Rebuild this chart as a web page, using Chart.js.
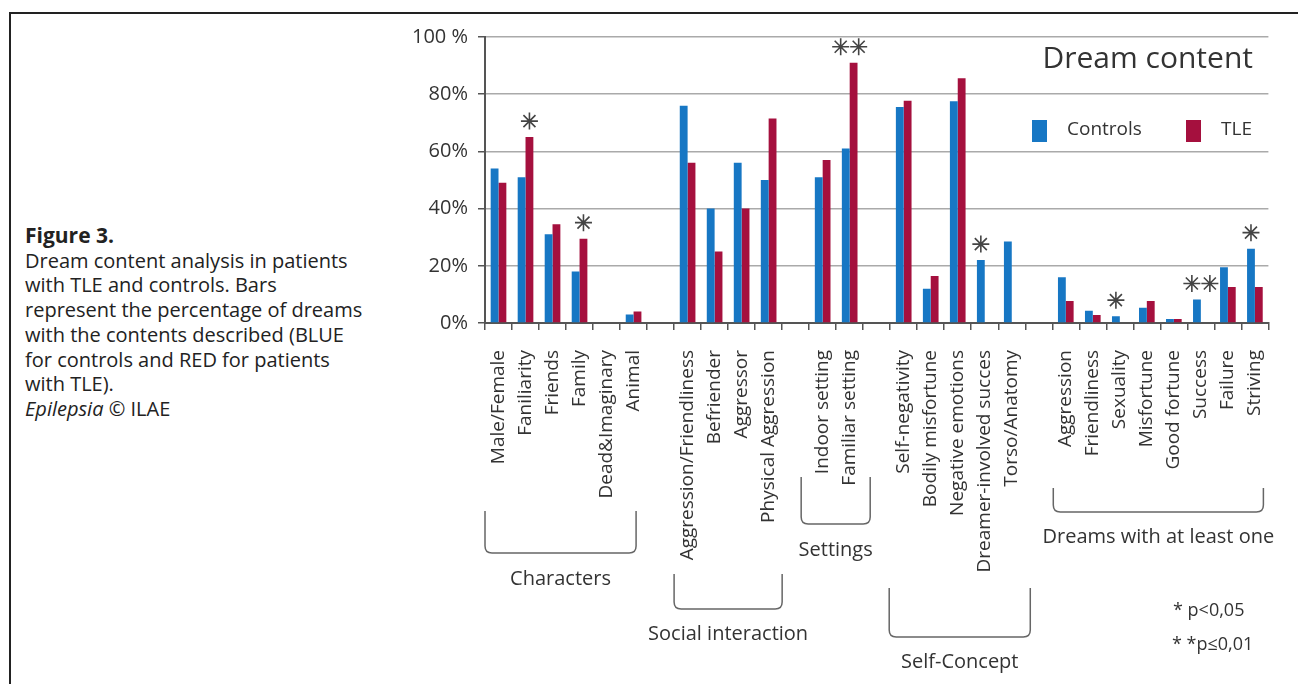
<!DOCTYPE html>
<html>
<head>
<meta charset="utf-8">
<script src="https://cdn.jsdelivr.net/npm/chart.js@4.4.1/dist/chart.umd.min.js"></script>
<style>
  body { margin: 0; width: 1298px; height: 684px; background: #fff; overflow: hidden; position: relative; font-family: "Open Sans", sans-serif; }
  #frame { position: absolute; left: 9px; top: 12px; width: 1289px; height: 672px; border-left: 2px solid #222; border-top: 2px solid #222; }
  #caption { position: absolute; left: 25px; top: 223px; font-size: 20px; line-height: 24.7px; color: #222; white-space: nowrap; }
  #caption b { font-size: 21px; }
  #wrap { position: absolute; left: 400px; top: 15px; }
</style>
</head>
<body>
<div id="frame"></div>
<div id="caption">
  <b>Figure 3.</b><br>
  Dream content analysis in patients<br>
  with TLE and controls. Bars<br>
  represent the percentage of dreams<br>
  with the contents described (BLUE<br>
  for controls and RED for patients<br>
  with TLE).<br>
  <i>Epilepsia</i> &copy; ILAE
</div>
<div id="wrap"><canvas id="grafico" width="898" height="669"></canvas></div>
<script>
// categories (empty strings are the gaps between groups)
const categories = [
  'Male/Female', 'Faniliarity', 'Friends', 'Family', 'Dead&Imaginary', 'Animal', '',
  'Aggression/Friendliness', 'Befriender', 'Aggressor', 'Physical Aggression', '',
  'Indoor setting', 'Familiar setting', '',
  'Self-negativity', 'Bodily misfortune', 'Negative emotions', 'Dreamer-involved succes', 'Torso/Anatomy', '',
  'Aggression', 'Friendliness', 'Sexuality', 'Misfortune', 'Good fortune', 'Success', 'Failure', 'Striving'
];
const controls = [54, 51, 31, 18, 0, 3, null, 76, 40, 56, 50, null, 51, 61, null, 75.5, 12, 77.5, 22, 28.5, null, 16, 4.3, 2.4, 5.3, 1.4, 8.2, 19.5, 26];
const tle = [49, 65, 34.5, 29.5, 0, 4, null, 56, 25, 40, 71.5, null, 57, 91, null, 77.7, 16.4, 85.6, 0, 0, null, 7.7, 2.8, 0, 7.7, 1.4, 0, 12.6, 12.6];
const significance = ['', '*', '', '*', '', '', '', '', '', '', '', '', '', '**', '', '', '', '', '*', '', '', '', '', '*', '', '', '**', '', '*'];

const groupNames = ['Characters', 'Social interaction', 'Settings', 'Self-Concept', 'Dreams with at least one'];
const groupFirst = [0, 7, 12, 15, 21];
const groupLast = [5, 10, 13, 19, 28];

const yTicks = [0, 20, 40, 60, 80, 100];
const chartTitle = 'Dream content';
const footnotes = ['* p<0,05', '* *p\u22640,01'];

const FONT = '"Open Sans", sans-serif';
const BLUE = '#1777c4';
const RED = '#a5103e';

// bracket placement (canvas pixels), one per group
const bracketLayout = [
  { top: 496, bottom: 538, label: 564, padL: 0, padR: -11 },
  { top: 559, bottom: 594, label: 619, padL: 0, padR: 0 },
  { top: 462, bottom: 509, label: 535, padL: 8, padR: 7 },
  { top: 573, bottom: 622, label: 647, padL: 1, padR: 5 },
  { top: 473, bottom: 497, label: 522, padL: -1, padR: -5 }
];

const drawStar = (ctx, cx, cy, r) => {
  ctx.beginPath();
  for (let k = 0; k < 4; k++) {
    const a = k * Math.PI / 4;
    ctx.moveTo(cx - r * Math.cos(a), cy - r * Math.sin(a));
    ctx.lineTo(cx + r * Math.cos(a), cy + r * Math.sin(a));
  }
  ctx.stroke();
};

const extras = {
  id: 'extras',
  afterDraw(chart) {
    const ctx = chart.ctx;
    const xs = chart.scales.x;
    const step = xs.getPixelForValue(1) - xs.getPixelForValue(0);
    const metaC = chart.getDatasetMeta(0);
    const metaT = chart.getDatasetMeta(1);
    ctx.save();

    // asterisks above the taller bar
    ctx.strokeStyle = '#444';
    ctx.lineWidth = 1.6;
    significance.forEach((s, i) => {
      if (!s) return;
      const useC = (controls[i] || 0) >= (tle[i] || 0);
      const bar = useC ? metaC.data[i] : metaT.data[i];
      const cx = s.length === 2 ? xs.getPixelForValue(i) : bar.x;
      const cy = bar.y - 16;
      if (s.length === 1) {
        drawStar(ctx, cx, cy, 8.5);
      } else {
        drawStar(ctx, cx - 9, cy, 8.5);
        drawStar(ctx, cx + 9, cy, 8.5);
      }
    });

    // title
    ctx.fillStyle = '#333';
    ctx.font = `30px ${FONT}`;
    ctx.textAlign = 'right';
    ctx.textBaseline = 'middle';
    ctx.fillText(chartTitle, 853, 44);

    // legend
    ctx.font = `19px ${FONT}`;
    ctx.textAlign = 'left';
    const legendX = [632, 786];
    chart.data.datasets.forEach((ds, d) => {
      ctx.fillStyle = ds.backgroundColor;
      ctx.fillRect(legendX[d], 105, 15, 22);
      ctx.fillStyle = '#333';
      ctx.fillText(ds.label, legendX[d] + 35, 115);
    });

    // group brackets
    ctx.strokeStyle = '#666';
    ctx.lineWidth = 1.5;
    ctx.font = `20px ${FONT}`;
    ctx.textAlign = 'center';
    groupNames.forEach((name, g) => {
      const b = bracketLayout[g];
      const left = xs.getPixelForValue(groupFirst[g]) - step / 2 - b.padL;
      const right = xs.getPixelForValue(groupLast[g]) + step / 2 + b.padR;
      const r = 7;
      ctx.beginPath();
      ctx.moveTo(left, b.top);
      ctx.lineTo(left, b.bottom - r);
      ctx.quadraticCurveTo(left, b.bottom, left + r, b.bottom);
      ctx.lineTo(right - r, b.bottom);
      ctx.quadraticCurveTo(right, b.bottom, right, b.bottom - r);
      ctx.lineTo(right, b.top);
      ctx.stroke();
      ctx.fillStyle = '#333';
      ctx.fillText(name, (left + right) / 2, b.label);
    });

    // footnotes
    ctx.font = `18px ${FONT}`;
    ctx.textAlign = 'left';
    ctx.fillText(footnotes[0], 773, 596);
    ctx.fillText(footnotes[1], 772, 630);
    ctx.restore();
  }
};

const ctx = document.getElementById('grafico').getContext('2d');
new Chart(ctx, {
  type: 'bar',
  data: {
    labels: categories,
    datasets: [
      { label: 'Controls', data: controls, backgroundColor: BLUE },
      { label: 'TLE', data: tle, backgroundColor: RED }
    ]
  },
  options: {
    responsive: false,
    animation: false,
    categoryPercentage: 0.58,
    barPercentage: 1,
    layout: { padding: { top: 19, right: 18, left: 0, bottom: 0 } },
    plugins: { legend: { display: false }, tooltip: { enabled: false } },
    scales: {
      x: {
        grid: { display: true, drawOnChartArea: false, drawTicks: true, tickLength: 7, offset: true, color: '#555', lineWidth: 1.5 },
        border: { color: '#555', width: 2 },
        ticks: { autoSkip: false, minRotation: 90, maxRotation: 90, padding: 20, color: '#333', font: { family: FONT, size: 19 } },
        afterFit: (scale) => { scale.height = 361; }
      },
      y: {
        min: 0,
        max: 100,
        afterBuildTicks: (scale) => { scale.ticks = yTicks.map((v) => ({ value: v })); },
        ticks: {
          padding: 10,
          color: '#333',
          font: { family: FONT, size: 20 },
          callback: (v) => (v === 100 ? '100 %' : v + '%')
        },
        grid: { color: '#aaa', lineWidth: 1.5, tickLength: 7, tickColor: '#555' },
        border: { color: '#555', width: 2 },
        afterFit: (scale) => { scale.width = 85; }
      }
    }
  },
  plugins: [extras]
});
</script>
</body>
</html>
